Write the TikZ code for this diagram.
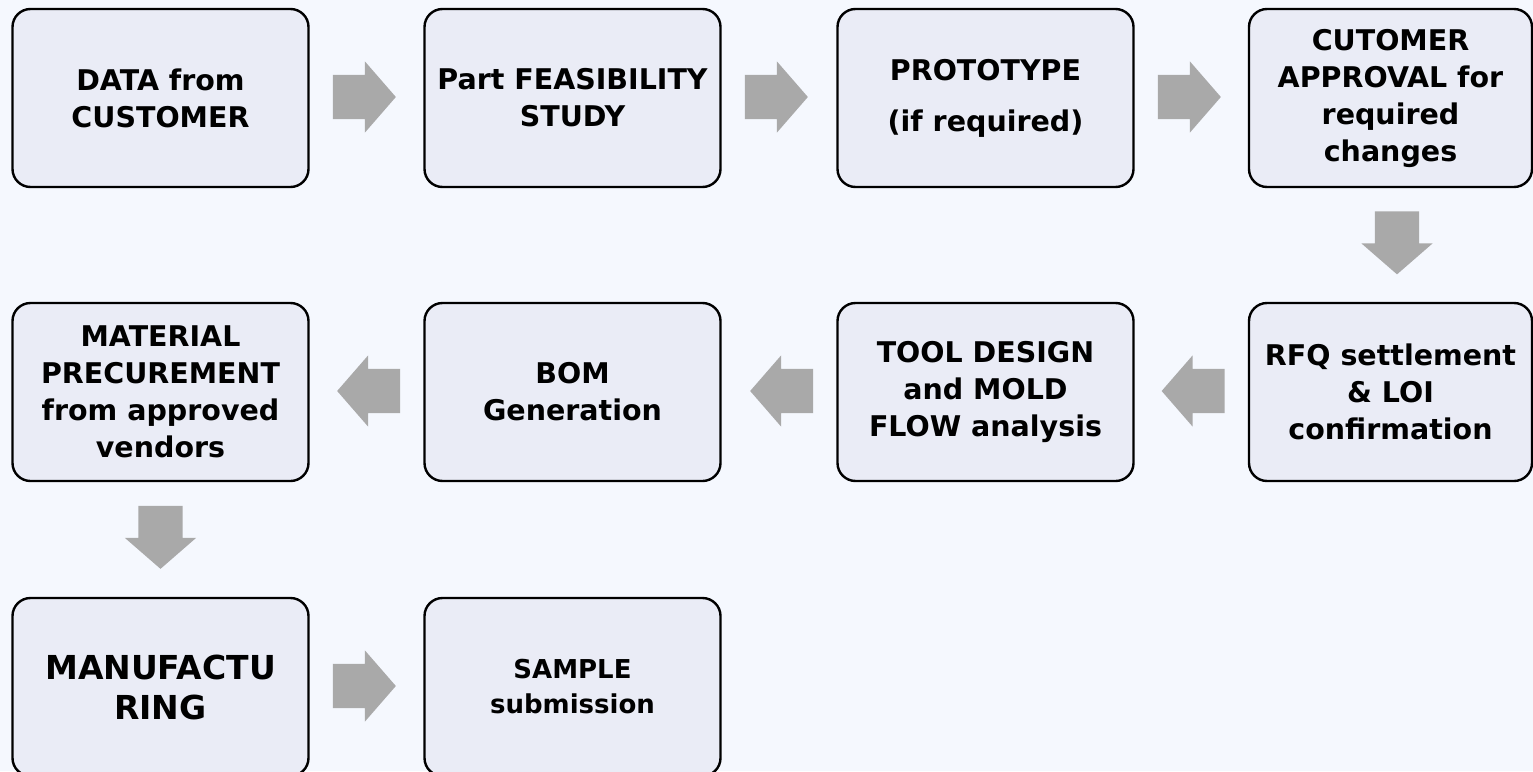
\documentclass[tikz,border=0pt]{standalone}
\usepackage{fontspec}
\setmainfont{DejaVu Sans}
\usetikzlibrary{calc,shapes.arrows}
\definecolor{pagebg}{HTML}{F5F8FE}
\definecolor{boxfill}{HTML}{EAECF6}
\definecolor{arrowgray}{HTML}{A9A9A9}

\begin{document}
\begin{tikzpicture}[x=1pt,y=-1pt,
  box node/.style={rectangle,rounded corners=18pt,fill=boxfill,draw=black,line width=2.4pt,
    minimum width=296pt,minimum height=178pt,align=center,
    font=\fontsize{28.5}{37}\selectfont\bfseries},
  arrow node/.style={single arrow,fill=arrowgray,draw=none,inner xsep=0pt,inner ysep=22pt,
    minimum height=63pt,single arrow head extend=13.5pt,
    single arrow tip angle=98}]

\fill[pagebg] (0,0) rectangle (1533,771);
\useasboundingbox (0,0) rectangle (1533,771);
\clip (0,0) rectangle (1533,771);

% first row
\node[box node](D1) at (160.5,98) {DATA from\\CUSTOMER};
\node[box node](D2) at (572.5,98) {Part FEASIBILITY\\STUDY};
\node[box node](D3) at (985.5,98) {PROTOTYPE\\[14pt](if required)};
\node[box node,minimum width=283pt](D4) at (1390.5,98) {CUTOMER\\APPROVAL for\\required\\changes};

% second row
\node[box node,minimum width=283pt](D5) at (1390.5,392) {RFQ settlement\\\& LOI\\confirmation};
\node[box node](D6) at (985.5,392) {TOOL DESIGN\\and MOLD\\FLOW analysis};
\node[box node](D7) at (572.5,392) {BOM\\Generation};
\node[box node](D8) at (160.5,392) {MATERIAL\\PRECUREMENT\\from approved\\vendors};

% third row
\node[box node,font=\fontsize{33}{40}\selectfont\bfseries](D9) at (160.5,687) {MANUFACTU\\RING};
\node[box node,font=\fontsize{26}{35}\selectfont\bfseries](D10) at (572.5,687) {SAMPLE\\submission};

% block arrows
\node[arrow node](A1) at ($(D1.east)+(45,-1)$) {};
\node[arrow node](A2) at ($(D2.east)+(45,-1)$) {};
\node[arrow node](A3) at ($(D3.east)+(45,-1)$) {};
\node[arrow node,rotate=-90](A4) at ($(D4.south)+(6.5,45)$) {};
\node[arrow node,rotate=180](A5) at ($(D5.west)+(-45,-1)$) {};
\node[arrow node,rotate=180](A6) at ($(D6.west)+(-45,-1)$) {};
\node[arrow node,rotate=180](A7) at ($(D7.west)+(-45,-1)$) {};
\node[arrow node,rotate=-90](A8) at ($(D8.south)+(0,45.5)$) {};
\node[arrow node](A9) at ($(D9.east)+(45,-1)$) {};

\end{tikzpicture}
\end{document}
